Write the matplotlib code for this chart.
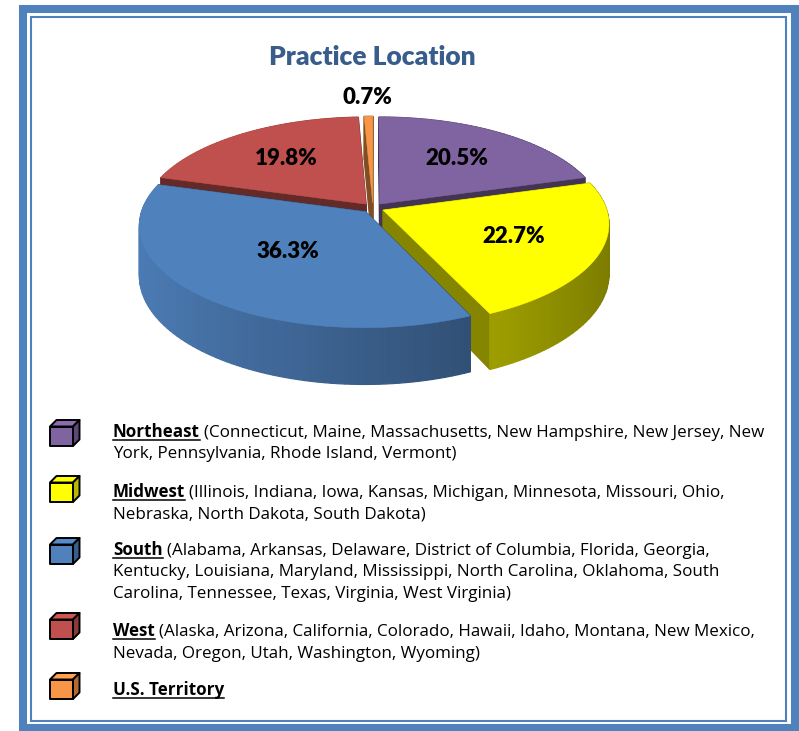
import matplotlib.pyplot as plt
from matplotlib.patches import Polygon, Rectangle
import matplotlib.colors as mcolors
import numpy as np

# data
region_names = ["Northeast", "Midwest", "South", "West", "U.S. Territory"]
region_share = [20.5, 22.7, 36.3, 19.8, 0.7]
region_colors = ["#8064A2", "#FFFF00", "#4F81BD", "#C0504D", "#F79646"]
region_states = [
    ["(Connecticut, Maine, Massachusetts, New Hampshire, New Jersey, New",
     "York, Pennsylvania, Rhode Island, Vermont)"],
    ["(Illinois, Indiana, Iowa, Kansas, Michigan, Minnesota, Missouri, Ohio,",
     "Nebraska, North Dakota, South Dakota)"],
    ["(Alabama, Arkansas, Delaware, District of Columbia, Florida, Georgia,",
     "Kentucky, Louisiana, Maryland, Mississippi, North Carolina, Oklahoma, South",
     "Carolina, Tennessee, Texas, Virginia, West Virginia)"],
    ["(Alaska, Arizona, California, Colorado, Hawaii, Idaho, Montana, New Mexico,",
     "Nevada, Oregon, Utah, Washington, Wyoming)"],
    [""],
]
chart_title = "Practice Location"

TITLE_FONT = "Lato"
BODY_FONT = "Open Sans"
W, H = 799, 731

# pie geometry (pixel space)
cx, cy = 373, 208
rx, ry = 223, 99.5
k = 0.132          # perspective
h = 49             # thickness
explode = 0.05
label_radius = [0.62, 0.62, 0.5, 0.62, 1.25]


def proj(u, v, z=0.0):
    s = 1 + k * v
    return cx + rx * u / s, cy - ry * v / s + z * h / s


def shade(color, f):
    c = np.array(mcolors.to_rgb(color))
    return tuple(np.clip(c * f, 0, 1))


fig = plt.figure(figsize=(W / 100, H / 100), dpi=100)
ax = fig.add_axes([0, 0, 1, 1])
ax.set_xlim(0, W)
ax.set_ylim(H, 0)
ax.axis("off")

# frame
ax.add_patch(Rectangle((22.5, 9), 795 - 22.5, 728 - 9, fill=False,
                       edgecolor="#4F81BD", lw=5.8))
ax.add_patch(Rectangle((30.5, 17), 786 - 30.5, 721 - 17, fill=False,
                       edgecolor="#4F81BD", lw=1.5))

ax.text(372, 65, chart_title, ha="center", va="baseline", fontsize=19,
        fontweight="heavy", color="#385D8A", family=TITLE_FONT)

# slices
bounds = np.concatenate([[0], np.cumsum(region_share)]) / sum(region_share) * 360
sides = []
tops = []
for i, col in enumerate(region_colors):
    a0, a1 = np.radians(bounds[i]), np.radians(bounds[i + 1])
    m = (a0 + a1) / 2
    ou, ov = explode * np.sin(m), explode * np.cos(m)
    th = np.linspace(a0, a1, max(3, int(np.degrees(a1 - a0) / 1.5)))
    ru, rv = ou + np.sin(th), ov + np.cos(th)

    top = [proj(ou, ov)] + [proj(a, b) for a, b in zip(ru, rv)]
    tops.append(top)

    # outer wall, in small pieces so the ordering works
    for j in range(len(th) - 1):
        quad = [proj(ru[j], rv[j]), proj(ru[j + 1], rv[j + 1]),
                proj(ru[j + 1], rv[j + 1], 1), proj(ru[j], rv[j], 1)]
        u_mid = np.sin((th[j] + th[j + 1]) / 2)
        f = 0.72 - 0.24 * u_mid
        sides.append(((rv[j] + rv[j + 1]) / 2, quad, shade(col, f)))

    # cut faces
    for a in (a0, a1):
        eu, ev = ou + np.sin(a), ov + np.cos(a)
        quad = [proj(ou, ov), proj(eu, ev), proj(eu, ev, 1), proj(ou, ov, 1)]
        sides.append(((ov + ev) / 2, quad, shade(col, 0.52)))

sides.sort(key=lambda s: -s[0])
for _, quad, c in sides:
    ax.add_patch(Polygon(quad, closed=True, facecolor=c, edgecolor=c, lw=0.9))
for top, col in zip(tops, region_colors):
    ax.add_patch(Polygon(top, closed=True, facecolor=col, edgecolor=col, lw=0.4))

# percentage labels
for i, val in enumerate(region_share):
    m = np.radians((bounds[i] + bounds[i + 1]) / 2)
    r = label_radius[i]
    ou, ov = explode * np.sin(m), explode * np.cos(m)
    x, y = proj(ou + r * np.sin(m), ov + r * np.cos(m))
    ax.text(x, y, f"{val:.1f}%", ha="center", va="center", fontsize=16,
            fontweight="heavy", color="black", family=TITLE_FONT)

# legend with little cubes
icon_tops = [420, 476, 538, 613, 673]
legend_baselines = [437, 497, 555, 636, 695]
line_gap = 21.5
text_x = 113
line_end = 766

fig.canvas.draw()
renderer = fig.canvas.get_renderer()
inv = ax.transData.inverted()


def text_width(s, size, weight="normal"):
    t = ax.text(0, 0, s, fontsize=size, fontweight=weight, family=BODY_FONT)
    bb = t.get_window_extent(renderer)
    t.remove()
    return bb.width


# size the body text so the first legend line spans the same width as in the picture
probe = (text_width(region_names[0], 10, "bold") + 4
         + text_width(region_states[0][0], 10))
body_size = 10 * (line_end - text_x) / probe

for name, lines, col, top_y, base in zip(region_names, region_states,
                                         region_colors, icon_tops,
                                         legend_baselines):
    # cube icon
    d, w, hh, x0 = 6.5, 23, 19.5, 50
    y0 = top_y + d
    front = [(x0, y0), (x0 + w, y0), (x0 + w, y0 + hh), (x0, y0 + hh)]
    topf = [(x0, y0), (x0 + d, y0 - d), (x0 + w + d, y0 - d), (x0 + w, y0)]
    right = [(x0 + w, y0), (x0 + w + d, y0 - d), (x0 + w + d, y0 + hh - d),
             (x0 + w, y0 + hh)]
    for poly, f in ((front, 1.0), (topf, 1.08), (right, 0.72)):
        ax.add_patch(Polygon(poly, closed=True, facecolor=shade(col, f),
                             edgecolor="black", lw=1.4, joinstyle="round"))

    t = ax.text(text_x, base, name, ha="left", va="baseline", fontsize=body_size,
                fontweight="bold", color="black", family=BODY_FONT)
    bb = t.get_window_extent(renderer)
    x_end = inv.transform((bb.x1, bb.y0))[0]
    ax.plot([text_x, x_end], [base + 2.5, base + 2.5], color="black", lw=1.1)
    for n, line in enumerate(lines):
        if not line:
            continue
        xs = x_end + 4 if n == 0 else text_x
        ax.text(xs, base + n * line_gap, line, ha="left", va="baseline",
                fontsize=body_size, color="black", family=BODY_FONT)

fig.savefig("out.png", dpi=100, facecolor="white")
